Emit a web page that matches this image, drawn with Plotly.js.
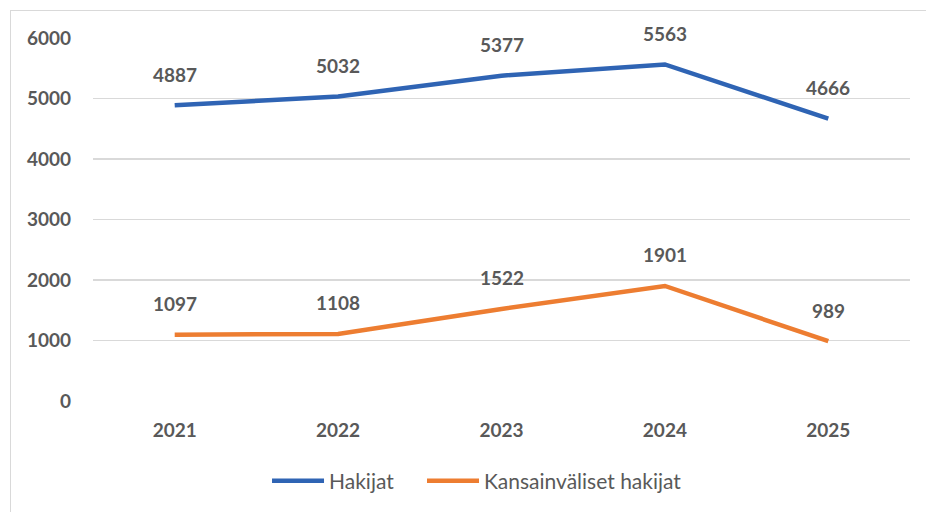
<!DOCTYPE html>
<html>
<head>
<meta charset="utf-8">
<script src="https://cdn.plot.ly/plotly-3.0.1.min.js"></script>
<style>
body{margin:0;padding:0;background:#fff;}
#wrap{position:relative;width:926px;height:512px;overflow:hidden;}
#chart{width:926px;height:512px;}
#frame{position:absolute;left:10px;top:10px;width:940px;height:600px;border:1px solid #d9d9d9;pointer-events:none;}
</style>
</head>
<body>
<div id="wrap"><div id="chart"></div><div id="frame"></div></div>
<script>
const years = ['2021','2022','2023','2024','2025'];
const hakijat = [4887, 5032, 5377, 5563, 4666];
const kansainvaliset = [1097, 1108, 1522, 1901, 989];
const seriesNames = ['Hakijat', 'Kansainväliset hakijat'];
const colors = ['#2F64B4', '#ED7D31'];
const font = 'Lato, "Open Sans", "Liberation Sans", sans-serif';
const grey = '#595959';

const traces = [hakijat, kansainvaliset].map((vals, i) => ({
  type: 'scatter', mode: 'lines', x: years, y: vals, name: seriesNames[i],
  legend: i === 0 ? 'legend' : 'legend2',
  line: {color: colors[i], width: 4.5}, hoverinfo: 'skip'
}));

const annotations = [];
[hakijat, kansainvaliset].forEach(vals => {
  vals.forEach((v, j) => annotations.push({
    x: j, y: v, xref: 'x', yref: 'y', text: '<b>' + v + '</b>',
    showarrow: false, yshift: 31, yanchor: 'middle',
    font: {family: font, size: 19, color: grey}
  }));
});

const legendBase = {orientation: 'h', xanchor: 'left', y: -0.217, yanchor: 'middle',
  font: {family: font, size: 21, color: grey}, itemwidth: 52, bgcolor: 'rgba(0,0,0,0)'};

const layout = {
  width: 926, height: 512,
  margin: {l: 93, r: 16, t: 38, b: 110},
  paper_bgcolor: '#fff', plot_bgcolor: '#fff',
  showlegend: true,
  legend: Object.assign({}, legendBase, {x: 0.2130}),
  legend2: Object.assign({}, legendBase, {x: 0.4027}),
  xaxis: {type: 'category', range: [-0.5, 4.5], showgrid: false, zeroline: false, showline: false,
    ticks: '', ticklabelstandoff: 16,
    tickfont: {family: font, size: 19, color: grey, weight: 'bold'}},
  yaxis: {range: [0, 6000], dtick: 1000, showgrid: true, gridcolor: '#d9d9d9', gridwidth: 1.3,
    zeroline: false, showline: false, ticks: '', ticklabelstandoff: 21,
    tickfont: {family: font, size: 19, color: grey, weight: 'bold'}},
  annotations: annotations
};

Plotly.newPlot('chart', traces, layout, {displayModeBar: false, staticPlot: true});
</script>
</body>
</html>
